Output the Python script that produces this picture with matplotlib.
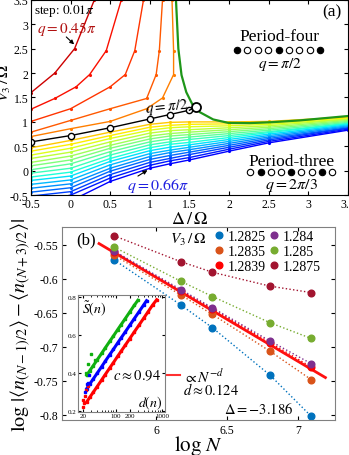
# phase diagram (a) and finite-size scaling (b)
import matplotlib
matplotlib.use('Agg')
import matplotlib.pyplot as plt
import numpy as np

plt.rcParams['font.family'] = ['Liberation Serif', 'DejaVu Serif']
plt.rcParams['mathtext.fontset'] = 'stix'

# ---------------- panel (a) data ----------------
# upper q-contours (q = 0.45pi ... 0.49pi)
up_q = [0.45, 0.46, 0.47, 0.48, 0.49]
up_delta = [
    [-0.5, -0.2, 0.05, 0.3],
    [-0.5, -0.2, 0.07, 0.24, 0.45, 0.64],
    [-0.5, 0.0, 0.5, 0.69, 0.81, 0.92],
    [-0.5, 0.0, 0.5, 0.96, 1.08, 1.12, 1.16],
    [-0.5, 0.0, 0.5, 0.96, 1.16, 1.30, 1.30, 1.28],
]
up_v3 = [
    [1.6, 2.0, 2.5, 3.5],
    [1.26, 1.48, 1.72, 1.97, 2.46, 3.5],
    [1.01, 1.27, 1.72, 1.97, 2.46, 3.5],
    [0.79, 1.03, 1.27, 1.48, 1.97, 2.46, 3.5],
    [0.70, 0.86, 1.01, 1.27, 1.49, 1.97, 2.46, 3.5],
]

# q = pi/2 line
half_delta = [-0.5, 0.0, 0.5, 1.0, 1.25, 1.5]
half_v3 = [0.59, 0.72, 0.88, 1.06, 1.15, 1.24]
end_delta, end_v3 = 1.58, 1.31

# boundary of the period-four region
green_delta = [1.33, 1.36, 1.40, 1.46, 1.54, 1.63, 1.80, 1.99, 2.26, 2.55, 2.89, 3.5]
green_v3 = [3.5, 2.5, 1.96, 1.61, 1.35, 1.20, 1.05, 0.98, 0.975, 0.995, 1.03, 1.12]

# lower q-contours (q = 0.51pi ... 0.66pi)
low_q = [0.51, 0.52, 0.53, 0.54, 0.55, 0.56, 0.57, 0.58,
         0.59, 0.60, 0.61, 0.62, 0.63, 0.64, 0.65, 0.66]
low_delta = [-0.5, 0.0, 0.5, 1.0, 1.25, 1.5, 2.0, 2.5, 3.5]
low_v3 = [
    [0.47, 0.62, 0.79, 0.95, 0.99, 1.00, 1.00, 1.01, 1.10],
    [0.40, 0.54, 0.72, 0.89, 0.93, 0.95, 0.96, 0.98, 1.08],
    [0.32, 0.46, 0.66, 0.83, 0.88, 0.90, 0.92, 0.95, 1.06],
    [0.25, 0.38, 0.59, 0.77, 0.82, 0.84, 0.88, 0.92, 1.05],
    [0.17, 0.30, 0.52, 0.71, 0.76, 0.79, 0.84, 0.89, 1.03],
    [0.10, 0.22, 0.46, 0.65, 0.71, 0.74, 0.80, 0.86, 1.01],
    [0.02, 0.14, 0.39, 0.59, 0.65, 0.69, 0.76, 0.83, 0.99],
    [-0.05, 0.05, 0.32, 0.53, 0.59, 0.64, 0.72, 0.80, 0.97],
    [-0.13, -0.03, 0.25, 0.47, 0.54, 0.58, 0.68, 0.78, 0.96],
    [-0.20, -0.11, 0.19, 0.41, 0.48, 0.53, 0.64, 0.75, 0.94],
    [-0.28, -0.19, 0.12, 0.35, 0.42, 0.48, 0.60, 0.72, 0.92],
    [-0.36, -0.27, 0.05, 0.29, 0.37, 0.43, 0.56, 0.69, 0.90],
    [-0.44, -0.35, -0.01, 0.23, 0.31, 0.38, 0.52, 0.66, 0.88],
    [-0.52, -0.43, -0.08, 0.17, 0.25, 0.33, 0.48, 0.63, 0.87],
    [-0.68, -0.50, -0.15, 0.11, 0.20, 0.27, 0.44, 0.60, 0.85],
    [-0.95, -0.62, -0.22, 0.05, 0.14, 0.22, 0.40, 0.57, 0.83],
]

# ---------------- panel (b) data ----------------
logN = [np.log(300), np.log(480), np.log(600), np.log(900), np.log(1200)]
v3_labels = ['1.2825', '1.2835', '1.2839', '1.284', '1.285', '1.2875']
b_colors = ['#0072BD', '#D95319', '#FF0000', '#7E2F8E', '#77AC30', '#A2142F']
b_vals = [
    [-0.572, -0.6386, -0.6723, -0.7423, -0.8025],
    [-0.5652, -0.6239, -0.6527, -0.707, -0.7486],
    [-0.5603, -0.6175, -0.6444, -0.6943, -0.730],
    [-0.559, -0.616, -0.643, -0.6919, -0.7251],
    [-0.5534, -0.6038, -0.6263, -0.665, -0.688],
    [-0.5368, -0.575, -0.5906, -0.6111, -0.6205],
]
fit_x = [5.60, 7.19]
fit_d = 0.124
fit_a = 0.146

# inset: entanglement entropy vs chord length
in_d_red = [24, 28, 33, 40, 50, 60, 75, 90, 110, 130, 160, 200, 250, 320, 400, 500, 620, 760]
in_s_red = [0.248, 0.273, 0.298, 0.328, 0.363, 0.392, 0.427, 0.455, 0.487, 0.513,
            0.545, 0.580, 0.615, 0.653, 0.688, 0.723, 0.757, 0.785]
in_d_blue = [24, 28, 33, 40, 50, 60, 75, 90, 110, 130, 160, 200, 250, 320, 400, 460]
in_s_blue = [0.318, 0.343, 0.368, 0.398, 0.433, 0.462, 0.497, 0.525, 0.557, 0.583,
             0.615, 0.650, 0.685, 0.723, 0.758, 0.780]
in_d_green = [24, 28, 33, 40, 50, 60, 75, 90, 110, 130, 160, 200, 250, 300]
in_s_green = [0.388, 0.413, 0.438, 0.468, 0.503, 0.532, 0.567, 0.595, 0.627, 0.653,
              0.685, 0.720, 0.755, 0.782]
ex_d_red = [20, 20, 21, 22, 23, 25]
ex_s_red = [0.22, 0.26, 0.24, 0.28, 0.31, 0.33]
ex_d_blue = [22, 24, 26, 27]
ex_s_blue = [0.30, 0.34, 0.35, 0.39]
ex_d_green = [23, 26, 30, 36]
ex_s_green = [0.40, 0.445, 0.50, 0.47]


def qcolor(q):
    v = 0.93 - (q - 0.45) / 0.21 * 0.82
    return plt.cm.jet(v)


fig = plt.figure(figsize=(3.49, 4.56), dpi=100)

# ---------------- (a) ----------------
ax = fig.add_axes([0.0888, 0.570, 0.908, 0.428])
for q, dx, vy in zip(up_q, up_delta, up_v3):
    ax.plot(dx, vy, '-', color=qcolor(q), lw=1.0, marker='.', ms=2.5)
for q, vy in zip(low_q, low_v3):
    ax.plot(low_delta, vy, '-', color=qcolor(q), lw=1.0, marker='.', ms=2.5)
ax.plot(green_delta, green_v3, '-', color='#1E9619', lw=1.6)
ax.plot(half_delta, half_v3, '-', color='k', lw=1.0, marker='o', ms=4.5,
        mfc='white', mec='k', mew=1.0)
ax.plot([half_delta[-1], end_delta], [half_v3[-1], end_v3], '-', color='k', lw=1.0)
ax.plot([end_delta], [end_v3], 'o', ms=6.5, mfc='white', mec='k', mew=1.3)

ax.set_xlim(-0.5, 3.5)
ax.set_ylim(-0.5, 3.5)
ax.set_xticks(np.arange(-0.5, 3.51, 0.5))
ax.set_yticks(np.arange(-0.5, 3.51, 0.5))
ax.set_xticklabels(['-0.5', '0', '0.5', '1', '1.5', '2', '2.5', '3', '3.5'])
ax.set_yticklabels(['-0.5', '0', '0.5', '1', '1.5', '2', '2.5', '3', '3.5'])
ax.tick_params(direction='in', top=True, right=True, labelsize=8.5, length=3, pad=2)
ax.set_xlabel(r'$\Delta\,/\,\Omega$', fontsize=13, labelpad=0)
ax.set_ylabel(r'$V_3\,/\,\Omega$', fontsize=11.5)
ax.yaxis.set_label_coords(-0.058, 0.58)

ax.text(-0.46, 3.3, r'step: $0.01\pi$', fontsize=9.5, va='center')
ax.text(-0.42, 2.93, r'$q = 0.45\pi$', fontsize=11, color='#B01010', va='center')
ax.annotate('', xy=(0.07, 2.55), xytext=(-0.08, 2.78),
            arrowprops=dict(arrowstyle='-|>', color='k', lw=0.8, mutation_scale=6))
ax.text(3.42, 3.27, '(a)', fontsize=12.5, ha='right', va='center')
ax.text(1.22, 1.33, r'$q = \pi/2$', fontsize=11, rotation=6, ha='center', va='center')
ax.text(1.1, -0.3, r'$q = 0.66\pi$', fontsize=11.5, color='#2020E0', ha='center', va='center')
ax.annotate('', xy=(1.0, 0.04), xytext=(0.82, -0.14),
            arrowprops=dict(arrowstyle='-|>', color='k', lw=0.8, mutation_scale=6))

# period-four pattern
p4 = [1, 0, 0, 0, 1, 0, 0, 0, 1]
p4_x = np.linspace(2.1, 3.15, len(p4))
ax.text(2.63, 2.77, 'Period-four', fontsize=12.5, ha='center', va='center')
for xx, f in zip(p4_x, p4):
    ax.plot(xx, 2.48, 'o', ms=4.6, mec='k', mew=0.8, mfc='k' if f else 'white')
ax.text(2.64, 2.2, r'$q = \pi/2$', fontsize=11, ha='center', va='center')

# period-three pattern
p3 = [0, 1, 0, 0, 1, 0, 0, 1, 0]
p3_x = np.linspace(2.27, 3.30, len(p3))
ax.text(2.79, 0.2, 'Period-three', fontsize=12.5, ha='center', va='center')
for xx, f in zip(p3_x, p3):
    ax.plot(xx, -0.03, 'o', ms=4.6, mec='k', mew=0.8, mfc='k' if f else 'white')
ax.text(2.79, -0.29, r'$q = 2\pi/3$', fontsize=11.5, ha='center', va='center')

# ---------------- (b) ----------------
bx = fig.add_axes([0.1777, 0.0768, 0.782, 0.4232])
handles = []
for lab, col, vals in zip(v3_labels, b_colors, b_vals):
    bx.plot(logN, vals, ':', color=col, lw=1.0)
    h, = bx.plot(logN, vals, 'o', color=col, ms=4.8, ls='none', label=lab)
    handles.append(h)
fx = np.array(fit_x)
bx.plot(fx, fit_a - fit_d * fx, '-', color='#FF1010', lw=2.0, zorder=1)

bx.set_xlim(5.34, 7.257)
bx.set_ylim(-0.808, -0.524)
bx.set_xticks([6, 6.5, 7])
bx.set_xticklabels(['6', '6.5', '7'])
bx.set_yticks([-0.8, -0.75, -0.7, -0.65, -0.6, -0.55])
bx.set_yticklabels(['-0.8', '-0.75', '-0.7', '-0.65', '-0.6', '-0.55'])
bx.tick_params(direction='in', top=True, right=True, labelsize=8.5, length=3, pad=3)
for s in bx.spines.values():
    s.set_color('#808080')
bx.set_xlabel(r'$\log\,N$', fontsize=15, labelpad=-2)
bx.set_ylabel(r'$\log\,|\langle n_{(N-1)/2}\rangle - \langle n_{(N+3)/2}\rangle|$',
              fontsize=14.5, labelpad=0)

bx.text(5.44, -0.5417, '(b)', fontsize=12, va='center')
bx.text(6.1, -0.5417, r'$V_3\,/\,\Omega$', fontsize=11, va='center')
bx.legend(handles=handles, ncol=2, loc='upper left', bbox_to_anchor=(0.53, 1.03),
          frameon=False, fontsize=10, handlelength=0.6, handletextpad=0.3,
          columnspacing=0.3, labelspacing=0.15, borderaxespad=0.2)
bx.plot([6.07, 6.17], [-0.742, -0.742], '-', color='#FF3030', lw=1.5)
bx.text(6.19, -0.742, r'$\propto N^{-d}$', fontsize=11, va='center')
bx.text(6.19, -0.762, r'$d \approx 0.124$', fontsize=10.5, va='center')
bx.text(6.48, -0.791, r'$\Delta = -3.186$', fontsize=10.5, va='center')

# inset
ix = fig.add_axes([0.2235, 0.0943, 0.249, 0.2566])
ix.plot(in_d_red, in_s_red, '-', color='red', lw=2.2, marker='s', ms=1.5)
ix.plot(in_d_blue, in_s_blue, '-', color='blue', lw=2.2, marker='s', ms=1.5)
ix.plot(in_d_green, in_s_green, '-', color='#10B010', lw=2.2, marker='s', ms=1.5)
ix.plot(ex_d_red, ex_s_red, 's', color='red', ms=1.5, ls='none')
ix.plot(ex_d_blue, ex_s_blue, 's', color='blue', ms=1.5, ls='none')
ix.plot(ex_d_green, ex_s_green, 's', color='#10B010', ms=1.5, ls='none')
ix.set_xscale('log')
ix.set_xlim(15.6, 1140)
ix.set_ylim(0.195, 0.81)
ix.set_xticks([20, 100, 200, 1000])
ix.set_xticklabels(['20', '100', '200', '1000'])
ix.set_yticks([0.2, 0.4, 0.6, 0.8])
ix.set_yticklabels(['0.2', '0.4', '0.6', '0.8'])
ix.tick_params(direction='in', top=True, right=True, labelsize=5, length=2, pad=1)
ix.tick_params(which='minor', direction='in', top=True, length=1.2)
for s in ix.spines.values():
    s.set_color('#808080')
ix.text(0.05, 0.89, r'$\tilde{S}(n)$', transform=ix.transAxes, fontsize=10, va='center')
ix.text(0.97, 0.08, r'$d(n)$', transform=ix.transAxes, fontsize=10, ha='right', va='center')
ix.text(0.95, 0.32, r'$c \approx 0.94$', transform=ix.transAxes, fontsize=10.5,
        ha='right', va='center')

fig.savefig('out.png', dpi=100)
